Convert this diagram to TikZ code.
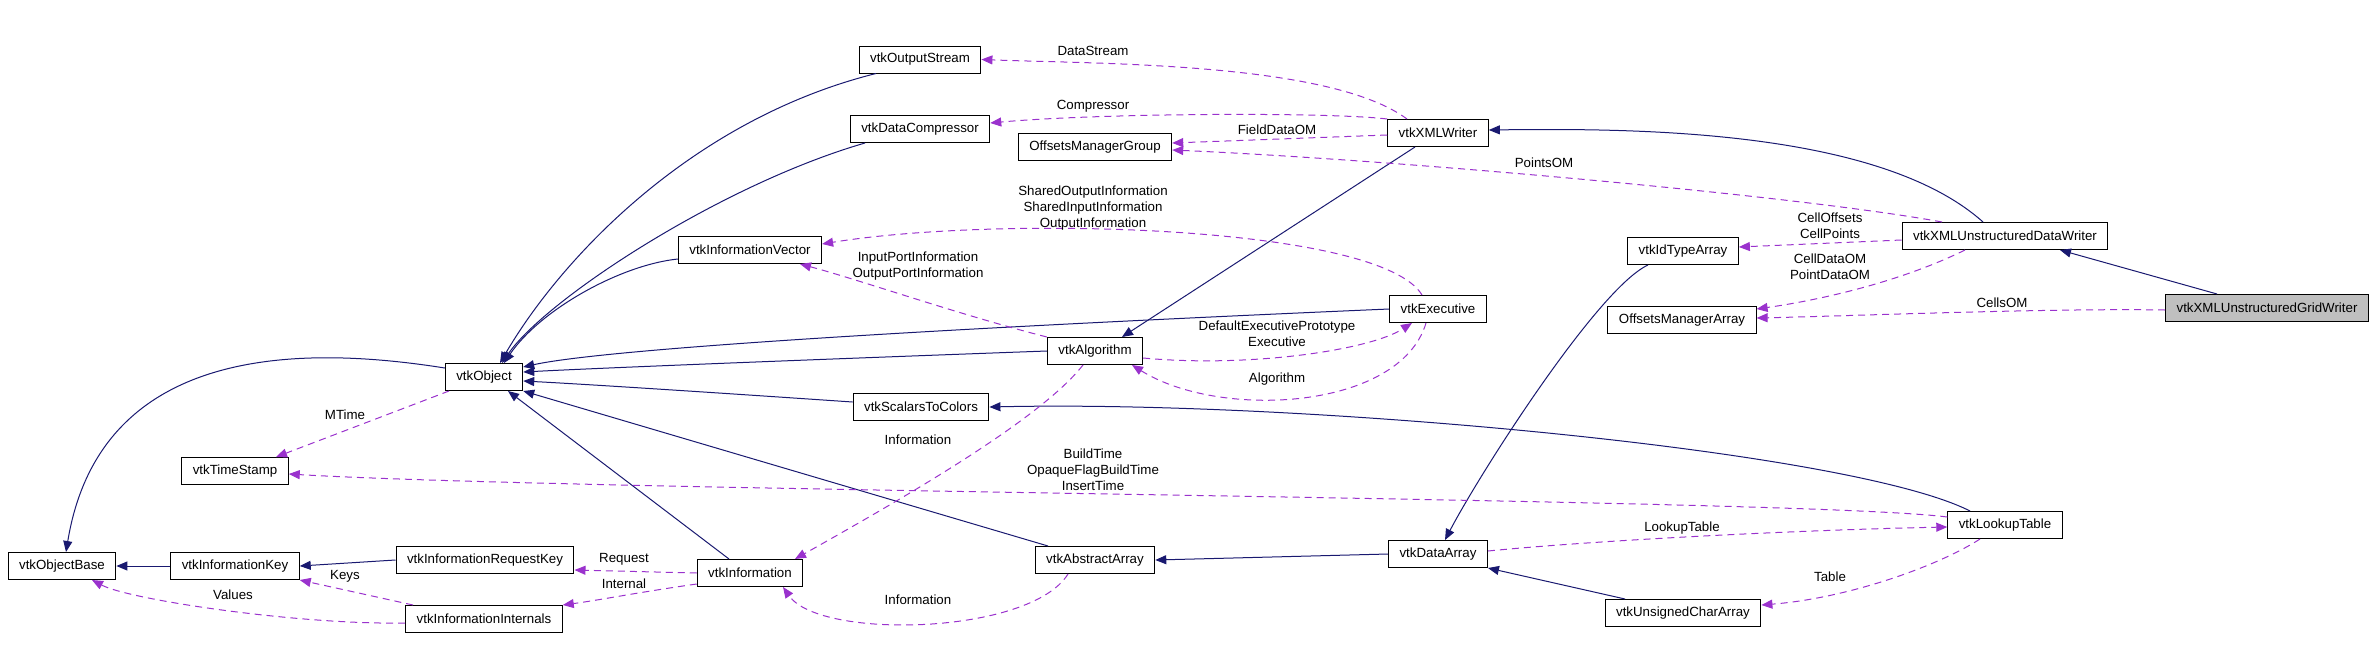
\documentclass[tikz,border=0pt]{standalone}
\usepackage{fontspec}
\setmainfont{Liberation Sans}
\usetikzlibrary{arrows.meta,calc}
\definecolor{inhc}{HTML}{191970}
\definecolor{usec}{HTML}{9A32CD}
\definecolor{curc}{HTML}{BFBFBF}
\newcommand{\lblfont}{\fontsize{13.3pt}{16pt}\selectfont}

\begin{document}
\begin{tikzpicture}[x=1pt,y=-1pt,
    cls/.style={draw=black,line width=1pt,fill=white,minimum height=27pt,inner xsep=11pt,inner ysep=0pt,font=\lblfont},
    cur/.style={cls,fill=curc},
    inh/.style={draw=inhc,line width=1pt,-{Triangle[length=11pt,width=9pt]}},
    use/.style={draw=usec,line width=1pt,dash pattern=on 7pt off 5pt,-{Triangle[length=11pt,width=9pt]}},
    lbl/.style={font=\lblfont,align=center,inner sep=0pt},
  ]
  \useasboundingbox (0,0) rectangle (2373,659);
  % classes
  \foreach \n/\x/\y/\t in {
      obase/62/566/vtkObjectBase,
      ikey/235/566/vtkInformationKey,
      ireq/485/560/vtkInformationRequestKey,
      iint/484/619/vtkInformationInternals,
      info/750/573/vtkInformation,
      tstamp/235/471/vtkTimeStamp,
      obj/484/377/vtkObject,
      ivec/750/250/vtkInformationVector,
      ostream/920/59.5/vtkOutputStream,
      dcomp/920/129/vtkDataCompressor,
      omgroup/1095/147/OffsetsManagerGroup,
      xmlw/1438/133/vtkXMLWriter,
      exec/1438/309/vtkExecutive,
      algo/1095/351/vtkAlgorithm,
      s2c/921/407/vtkScalarsToColors,
      aarr/1095/560/vtkAbstractArray,
      darr/1438/554/vtkDataArray,
      idarr/1683/251/vtkIdTypeArray,
      omarr/1682/320/OffsetsManagerArray,
      udw/2005/236/vtkXMLUnstructuredDataWriter,
      lut/2005/525/vtkLookupTable,
      ucarr/1683/613/vtkUnsignedCharArray} {
    \node[cls] (\n) at (\x,\y) {\t};
  }
  \node[cur] (ugw) at (2267,308) {vtkXMLUnstructuredGridWriter};

  % inheritance
  \draw[inh] ([yshift=9pt]obj.west) .. controls (300,345) and (100,345) .. ([xshift=4pt]obase.north);
  \draw[inh] ([xshift=-44pt]ostream.south) .. controls (690,120) and (560,260) .. ([xshift=16pt]obj.north);
  \draw[inh] ([xshift=-55pt]dcomp.south) .. controls (720,185) and (545,300) .. ([xshift=18pt]obj.north);
  \draw[inh] ([yshift=-9pt]ivec.west) .. controls (620,265) and (540,310) .. ([xshift=20pt]obj.north);
  \draw[inh] (exec.west) .. controls (900,330) and (600,350) .. ([yshift=10pt]obj.east);
  \draw[inh] (algo.west) .. controls (800,360) and (600,368) .. ([yshift=5pt]obj.east);
  \draw[inh] ([yshift=5pt]s2c.west) .. controls (750,395) and (600,385) .. ([yshift=-4pt]obj.east);
  \draw[inh] ([xshift=-47pt]aarr.north) -- (obj.south east);
  \draw[inh] ([xshift=-21pt]info.north) -- ([xshift=24pt]obj.south);
  \draw[inh] (ikey.west) -- (obase.east);
  \draw[inh] (ireq.west) -- (ikey.east);
  \draw[inh] ([xshift=-23pt]xmlw.south) -- ([xshift=27pt]algo.north);
  \draw[inh] ([xshift=-22pt]udw.north) .. controls (1880,130) and (1640,128) .. ([yshift=3pt]xmlw.east);
  \draw[inh] ([xshift=-50pt]ugw.north) -- ([xshift=55pt]udw.south);
  \draw[inh] ([xshift=-35pt]idarr.south) .. controls (1598,288) and (1480,473) .. ([xshift=7pt]darr.north);
  \draw[inh] ([xshift=-58pt]ucarr.north) -- (darr.south east);
  \draw[inh] (darr.west) -- (aarr.east);
  \draw[inh] ([xshift=-35pt]lut.north) .. controls (1850,450) and (1300,400) .. (s2c.east);

  % members
  \draw[use] ([xshift=-31pt]xmlw.north) .. controls (1330,62) and (1100,64) .. (ostream.east);
  \draw[use] (xmlw.north west) .. controls (1330,112) and (1100,113) .. ([yshift=6pt]dcomp.east);
  \draw[use] ([yshift=-2pt]xmlw.west) -- ([yshift=4pt]omgroup.east);
  \draw[use] ([xshift=-63pt]udw.north) .. controls (1800,196) and (1400,160) .. ([yshift=-3pt]omgroup.east);
  \draw[use] ([xshift=-16pt]exec.north) .. controls (1380,225) and (1000,215) .. ([yshift=6pt]ivec.east);
  \draw[use] (algo.north west) .. controls (960,315) and (860,280) .. ([xshift=50pt]ivec.south);
  \draw[use] ([yshift=-7pt]algo.east) .. controls (1250,368) and (1370,350) .. ([xshift=-26pt]exec.south);
  \draw[use] ([xshift=-12pt]exec.south) .. controls (1400,410) and (1220,420) .. ([xshift=37pt]algo.south);
  \draw[use] ([xshift=-35pt]obj.south) -- ([xshift=41pt]tstamp.north);
  \draw[use] ([yshift=8pt]lut.west) .. controls (1800,498) and (600,492) .. ([yshift=-3pt]tstamp.east);
  \draw[use] ([yshift=3pt]darr.east) .. controls (1600,540) and (1800,530) .. ([yshift=-2pt]lut.west);
  \draw[use] ([xshift=-25pt]lut.south) .. controls (1940,565) and (1850,598) .. ([yshift=8pt]ucarr.east);
  \draw[use] ([xshift=-12pt]algo.south) .. controls (1040,420) and (900,500) .. ([xshift=45pt]info.north);
  \draw[use] ([xshift=-27pt]aarr.south) .. controls (1030,635) and (820,640) .. ([xshift=33pt]info.south);
  \draw[use] (info.west) -- ([yshift=-10pt]ireq.east);
  \draw[use] ([yshift=-11pt]info.west) .. controls (640,592) and (600,600) .. (iint.north east);
  \draw[use] ([xshift=-71pt]iint.north) -- (ikey.south east);
  \draw[use] ([yshift=-4pt]iint.west) .. controls (300,625) and (130,600) .. ([xshift=30pt]obase.south);
  \draw[use] ([yshift=-4pt]udw.west) -- ([yshift=4pt]idarr.east);
  \draw[use] ([xshift=-40pt]udw.south) .. controls (1900,282) and (1820,300) .. ([yshift=-3pt]omarr.north east);
  \draw[use] ([yshift=-2pt]ugw.west) .. controls (2050,308) and (1850,316) .. ([yshift=2pt]omarr.east);

  % member names
  \node[lbl] (lDataStream) at (1093,51) {DataStream};
  \node[lbl] (lCompressor) at (1093,106) {Compressor};
  \node[lbl] (lFieldDataOM) at (1277,130) {FieldDataOM};
  \node[lbl] (lPointsOM) at (1544,163) {PointsOM};
  \node[lbl] (lShared) at (1093,208) {SharedOutputInformation\\SharedInputInformation\\OutputInformation};
  \node[lbl] (lPortInfo) at (918,266) {InputPortInformation\\OutputPortInformation};
  \node[lbl] (lExecutive) at (1277,334) {DefaultExecutivePrototype\\Executive};
  \node[lbl] (lAlgorithm) at (1277,379) {Algorithm};
  \node[lbl] (lInfoA) at (918,440) {Information};
  \node[lbl] (lBuildTime) at (1093,470) {BuildTime\\OpaqueFlagBuildTime\\InsertTime};
  \node[lbl] (lInfoB) at (918,600) {Information};
  \node[lbl] (lMTime) at (345,415) {MTime};
  \node[lbl] (lRequest) at (624,559) {Request};
  \node[lbl] (lInternal) at (624,584) {Internal};
  \node[lbl] (lKeys) at (345,576) {Keys};
  \node[lbl] (lValues) at (233,595) {Values};
  \node[lbl] (lCellPts) at (1830,226) {CellOffsets\\CellPoints};
  \node[lbl] (lDataOM) at (1830,267) {CellDataOM\\PointDataOM};
  \node[lbl] (lCellsOM) at (2002,303) {CellsOM};
  \node[lbl] (lLookupTable) at (1682,528) {LookupTable};
  \node[lbl] (lTable) at (1830,577) {Table};
\end{tikzpicture}
\end{document}
